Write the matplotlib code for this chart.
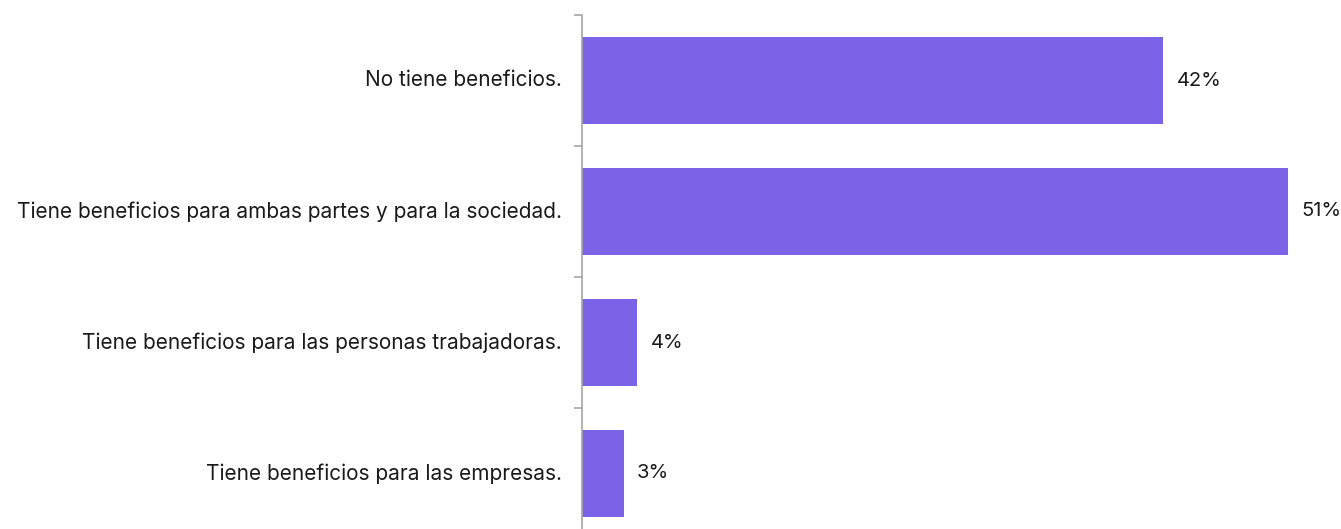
import matplotlib.pyplot as plt
import numpy as np

# respuestas y porcentajes
categorias = [
    'No tiene beneficios.',
    'Tiene beneficios para ambas partes y para la sociedad.',
    'Tiene beneficios para las personas trabajadoras.',
    'Tiene beneficios para las empresas.',
]
valores = [42, 51, 4, 3]
etiquetas = ['42%', '51%', '4%', '3%']

plt.rcParams['font.family'] = ['Inter', 'DejaVu Sans']

W, H = 1341, 529
fig = plt.figure(figsize=(W / 100, H / 100), dpi=100)
ax = fig.add_axes([582 / W, 1 - 539 / H, (1288 - 582) / W, 524 / H])

y = np.arange(len(categorias))
ax.barh(y, valores, height=0.66, color='#7B63E8')
ax.set_ylim(len(categorias) - 0.5, -0.5)
ax.set_xlim(0, max(valores))

for yi, v, t in zip(y, valores, etiquetas):
    ax.annotate(t, (v, yi), xytext=(9.5, 0), textcoords='offset points',
                va='center', ha='left', fontsize=14.5, color='#1a1a1a',
                annotation_clip=False)

for yi, c in zip(y, categorias):
    ax.annotate(c, (0, yi), xytext=(-14.5, 0), textcoords='offset points',
                va='center', ha='right', fontsize=15, color='#1a1a1a',
                annotation_clip=False)

# ticks entre categorías
ax.set_yticks(np.arange(len(categorias) + 1) - 0.5)
ax.set_yticklabels([])
ax.tick_params(axis='y', direction='out', length=6, width=1.2, color='#A6A6A6')
ax.set_xticks([])
for s in ['top', 'right', 'bottom']:
    ax.spines[s].set_visible(False)
ax.spines['left'].set_color('#A6A6A6')
ax.spines['left'].set_linewidth(1.2)

fig.savefig('out.png', dpi=100)
